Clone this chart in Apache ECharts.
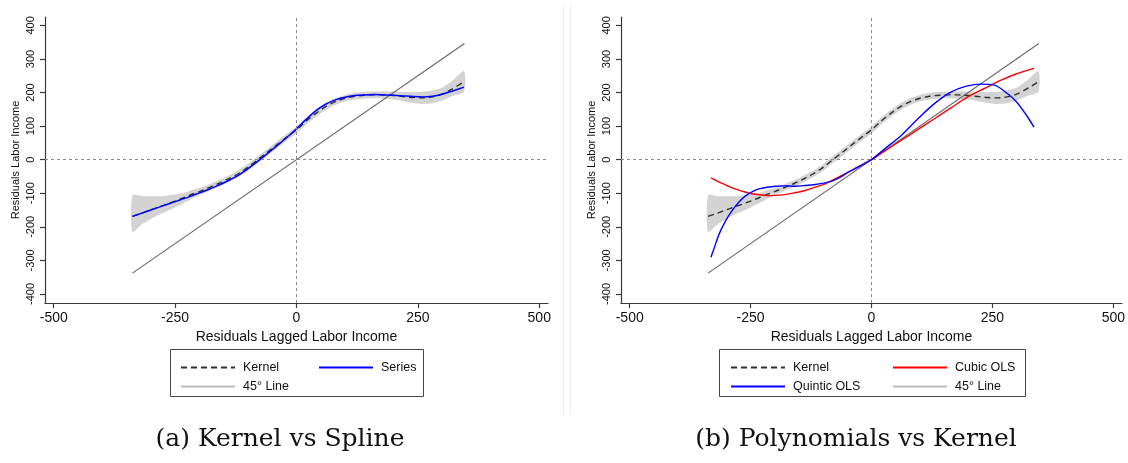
<!DOCTYPE html>
<html>
<head>
<meta charset="utf-8">
<script src="https://cdn.jsdelivr.net/npm/echarts@6/dist/echarts.min.js"></script>
<style>
  html, body { margin: 0; padding: 0; background: #ffffff; }
  #chart { width: 1128px; height: 463px; }
</style>
</head>
<body>
<div id="chart"></div>
<script>
// Tick labels
const xTickValues = [-500, -250, 0, 250, 500];
const yTickValues = [-400, -300, -200, -100, 0, 100, 200, 300, 400];

// Kernel regression: grid, fit and confidence band
const kernelX = [-338, -320, -300, -280, -260, -240, -220, -200, -180, -160, -140, -120, -100, -80, -60, -40, -20,
  0, 20, 40, 60, 80, 100, 120, 140, 160, 180, 200, 220, 240, 260, 280, 300, 320, 345];
const kernelY = [-169, -160, -149, -139, -129, -118, -106, -95, -83, -71, -57, -42, -23, 0, 22, 45, 67,
  89, 115, 138, 158, 173, 183, 189, 192, 193, 193, 191, 188, 185, 184, 187, 195, 210, 232];
const bandLow = [-216, -195, -177, -162, -149, -135, -120, -106, -93, -81, -67, -52, -33, -10, 12, 35, 57,
  79, 105, 128, 148, 163, 173, 179, 182, 183, 182, 179, 174, 169, 166, 168, 176, 189, 202];
const bandHigh = [-106, -108, -109, -109, -106, -101, -93, -84, -73, -61, -47, -32, -13, 10, 32, 55, 77,
  99, 125, 148, 168, 183, 193, 199, 202, 203, 204, 203, 202, 201, 202, 206, 214, 234, 264];

// Series (spline) fit on the kernel grid
const splineY = [-169, -160, -150, -140, -130, -120, -110, -99, -88, -76, -62, -47, -27, -5, 18, 42, 66,
  92, 120, 146, 165, 178, 186, 191, 193, 194, 193, 192, 190, 188, 187, 189, 195, 204, 216];

// 45 degree line end points
const diagX = [-338, 346];
const diagY = [-338, 346];

// Cubic OLS fit
const cubicX = [-332, -310, -288, -260, -240, -212, -180, -160, -137, -110, -96, -55, -30, 0,
  30, 62, 96, 130, 165, 199, 233, 268, 300, 336];
const cubicY = [-54, -70, -84, -97, -103, -107, -104, -99, -92, -79, -72, -42, -23, 0,
  28, 58, 90, 122, 155, 187, 212, 237, 256, 272];

// Quintic OLS fit
const quinticX = [-332, -325, -315, -300, -288, -274, -260, -246, -233, -216, -199, -180, -158, -137, -116,
  -100, -82, -65, -48, -30, -14, 0, 28, 62, 96, 130, 165, 199, 226, 254, 281, 300, 320, 336];
const quinticY = [-291, -262, -221, -178, -151, -126, -107, -95, -87, -82, -79, -78, -79, -77, -74,
  -70, -64, -53, -37, -24, -11, 0, 33, 73, 122, 167, 202, 220, 225, 222, 197, 172, 133, 97];

const pairs = (xs, ys) => xs.map((x, i) => [x, ys[i]]);

const FONT = 'Liberation Sans';
const AXIS_COLOR = '#3a3a3a';

function makeX(idx) {
  return {
    type: 'value', gridIndex: idx, min: -518, max: 518,
    name: 'Residuals Lagged Labor Income', nameLocation: 'middle', nameGap: 22,
    nameTextStyle: { fontFamily: FONT, fontSize: 14, color: '#111' },
    axisLine: { show: true, onZero: false, lineStyle: { color: AXIS_COLOR, width: 1.2 } },
    axisTick: { show: true, length: 5, customValues: xTickValues, lineStyle: { color: AXIS_COLOR, width: 1.2 } },
    axisLabel: { customValues: xTickValues, margin: 8, fontFamily: FONT, fontSize: 14, color: '#111' },
    splitLine: { show: false }
  };
}

function makeY(idx) {
  return {
    type: 'value', gridIndex: idx, min: -427, max: 425,
    name: 'Residuals Labor Income', nameLocation: 'middle', nameGap: 24, nameRotate: 90,
    nameTextStyle: { fontFamily: FONT, fontSize: 11, color: '#111' },
    axisLine: { show: true, onZero: false, lineStyle: { color: AXIS_COLOR, width: 1.2 } },
    axisTick: { show: true, length: 5, customValues: yTickValues, lineStyle: { color: AXIS_COLOR, width: 1.2 } },
    axisLabel: { customValues: yTickValues, rotate: 90, margin: 9, fontFamily: FONT, fontSize: 11, color: '#111' },
    splitLine: { show: false }
  };
}

function bandSeries(idx) {
  return {
    type: 'custom', xAxisIndex: idx, yAxisIndex: idx, z: 1, silent: true,
    data: [[0, 0]],
    renderItem: function (params, api) {
      const pts = [];
      for (let i = 0; i < kernelX.length; i++) pts.push(api.coord([kernelX[i], bandHigh[i]]));
      for (let i = kernelX.length - 1; i >= 0; i--) pts.push(api.coord([kernelX[i], bandLow[i]]));
      return { type: 'polygon', shape: { points: pts, smooth: 0.25 }, style: { fill: '#d3d3d3', stroke: null } };
    }
  };
}

function refLines() {
  return {
    silent: true, symbol: 'none', label: { show: false },
    lineStyle: { type: [3, 3], color: '#8a8a8a', width: 1 },
    emphasis: { disabled: true },
    data: [{ xAxis: 0 }, { yAxis: 0 }]
  };
}

function lineSeries(name, idx, data, color, width, type, z, smooth) {
  return {
    type: 'line', name: name, xAxisIndex: idx, yAxisIndex: idx, data: data,
    symbol: 'none', smooth: smooth, z: z, silent: true,
    lineStyle: { color: color, width: width, type: type },
    itemStyle: { color: color }
  };
}

function diagSeries(idx) {
  const s = lineSeries('45° Line', idx, pairs(diagX, diagY), '#6a6a6a', 1.2, 'solid', 2, false);
  s.markLine = refLines();
  return s;
}

const legendText = { fontFamily: FONT, fontSize: 12.5, color: '#111', padding: [0, 0, 0, 3] };
function legendBlock(left, names) {
  return {
    left: left, top: 356, orient: 'vertical', itemGap: 6, itemWidth: 54, itemHeight: 14,
    selectedMode: false, textStyle: legendText,
    itemStyle: { color: 'rgba(0,0,0,0)', borderColor: 'rgba(0,0,0,0)', borderWidth: 0, opacity: 0 },
    data: names.map(n => n === '45° Line' ? { name: n, lineStyle: { color: '#bdbdbd' } } : { name: n })
  };
}

const chart = echarts.init(document.getElementById('chart'), null, { renderer: 'canvas' });
chart.setOption({
  animation: false,
  backgroundColor: '#ffffff',
  grid: [
    { left: 45, top: 17, width: 503, height: 286 },
    { left: 621, top: 17, width: 504, height: 286 }
  ],
  xAxis: [makeX(0), makeX(1)],
  yAxis: [makeY(0), makeY(1)],
  legend: [
    legendBlock(175, ['Kernel', '45° Line']),
    legendBlock(313, ['Series']),
    legendBlock(725, ['Kernel', 'Quintic OLS']),
    legendBlock(887, ['Cubic OLS', '45° Line'])
  ],
  graphic: [
    { type: 'rect', shape: { x: 170.5, y: 349.5, width: 253, height: 47 }, style: { fill: null, stroke: '#444', lineWidth: 1 } },
    { type: 'rect', shape: { x: 719.5, y: 349.5, width: 306, height: 47 }, style: { fill: null, stroke: '#444', lineWidth: 1 } },
    { type: 'line', shape: { x1: 563.5, y1: 5, x2: 563.5, y2: 415 }, style: { stroke: '#efefef', lineWidth: 1 } },
    { type: 'line', shape: { x1: 570.5, y1: 5, x2: 570.5, y2: 415 }, style: { stroke: '#efefef', lineWidth: 1 } },
    { type: 'text', x: 280, y: 439, style: { text: '(a) Kernel vs Spline', fontFamily: 'DejaVu Serif', fontSize: 25, fill: '#111', textAlign: 'center', textVerticalAlign: 'middle' } },
    { type: 'text', x: 856, y: 439, style: { text: '(b) Polynomials vs Kernel', fontFamily: 'DejaVu Serif', fontSize: 25, fill: '#111', textAlign: 'center', textVerticalAlign: 'middle' } }
  ],
  series: [
    // left panel
    bandSeries(0),
    diagSeries(0),
    lineSeries('Kernel', 0, pairs(kernelX, kernelY), '#2f2f2f', 1.4, [6, 4], 3, 0.3),
    lineSeries('Series', 0, pairs(kernelX, splineY), '#0000ff', 1.5, 'solid', 4, 0.3),
    // right panel
    bandSeries(1),
    diagSeries(1),
    lineSeries('Kernel', 1, pairs(kernelX, kernelY), '#2f2f2f', 1.4, [6, 4], 3, 0.3),
    lineSeries('Cubic OLS', 1, pairs(cubicX, cubicY), '#ff0000', 1.4, 'solid', 4, 0.3),
    lineSeries('Quintic OLS', 1, pairs(quinticX, quinticY), '#0000ff', 1.4, 'solid', 5, 0.3)
  ]
});
</script>
</body>
</html>
